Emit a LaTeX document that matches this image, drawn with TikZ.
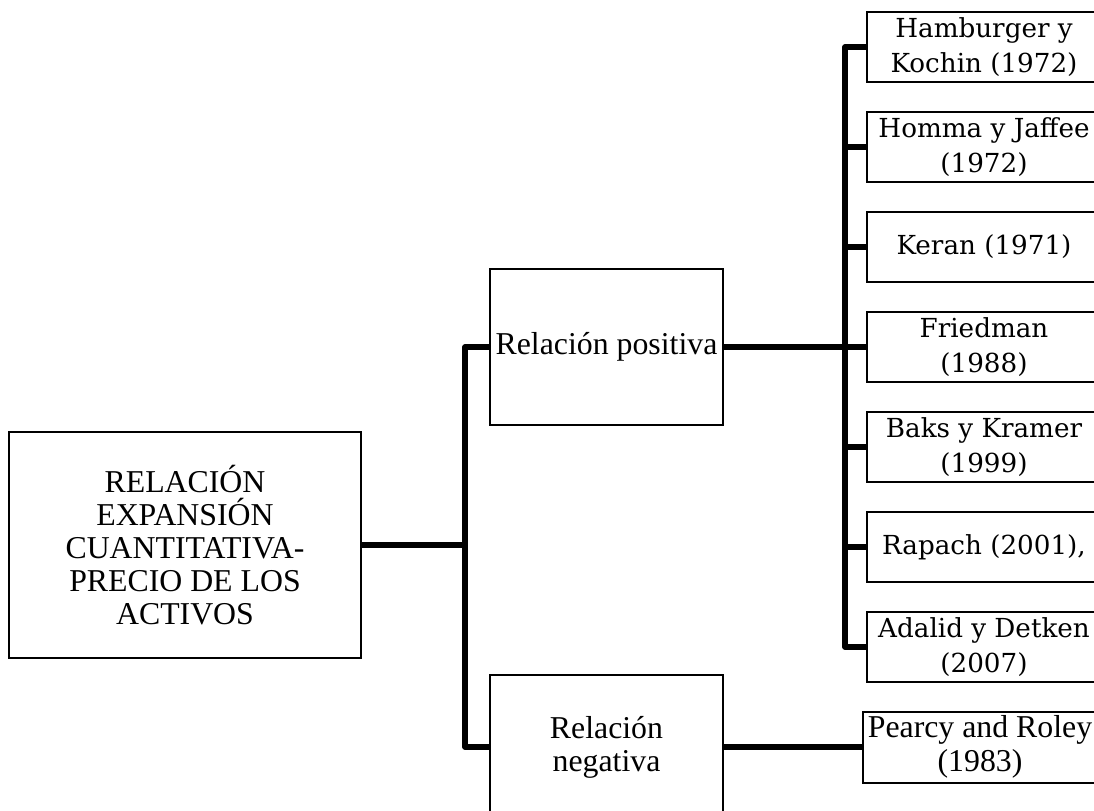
\documentclass[tikz,border=0pt]{standalone}
\usepackage{fontspec}
\setmainfont{Liberation Serif}
\newfontfamily\refserif{DejaVu Serif}
\begin{document}
\begin{tikzpicture}[x=0.5pt,y=-0.5pt,
  box/.style={draw=black,line width=1pt,fill=white,inner sep=0pt,align=center},
  times/.style={font=\fontsize{15.9pt}{16.6pt}\selectfont},
  cite/.style={box,minimum width=117pt,minimum height=35pt,
               font=\refserif\fontsize{13.1pt}{17.5pt}\selectfont},
  conn/.style={line width=2.6pt,line join=round,line cap=butt}]
\useasboundingbox (0,0) rectangle (1094,810);
\clip (0,0) rectangle (1094,810);

% root
\node[box,times,minimum width=176pt,minimum height=113pt] (root) at (185,545)
  {RELACIÓN\\EXPANSIÓN\\CUANTITATIVA-\\PRECIO DE LOS\\ACTIVOS};

% branches
\node[box,times,minimum width=116.5pt,minimum height=78pt] (pos) at (606.5,347)
  {Relación positiva};
\node[box,times,minimum width=116.5pt,minimum height=72pt] (neg) at (606.5,747)
  {Relación\\negativa};

% positive references
\node[cite] (r1) at (984,47)  {Hamburger y\\Kochin (1972)};
\node[cite] (r2) at (984,147) {Homma y Jaffee\\(1972)};
\node[cite] (r3) at (984,247) {Keran (1971)};
\node[cite] (r4) at (984,347) {Friedman\\(1988)};
\node[cite] (r5) at (984,447) {Baks y Kramer\\(1999)};
\node[cite] (r6) at (984,547) {Rapach (2001),};
\node[cite] (r7) at (984,647) {Adalid y Detken\\(2007)};

% negative reference
\node[box,times,minimum width=117pt,minimum height=35.5pt,
      font=\fontsize{15.9pt}{17pt}\selectfont] (n1) at (980,747)
  {Pearcy and Roley\\(1983)};

% trunks
\coordinate (t1) at (465,545);
\coordinate (t2) at (845,347);

\draw[conn] (root.east) -- (root.east -| t1);
\draw[conn] (pos.west) -- (pos.west -| t1) -- (neg.west -| t1) -- (neg.west);

\draw[conn] (pos.east) -- (r4.west);
\draw[conn] (r1.west) -- (r1.west -| t2) -- (r7.west -| t2) -- (r7.west);
\foreach \r in {r2,r3,r5,r6}
  \draw[conn] (\r.west -| t2) -- (\r.west);

\draw[conn] (neg.east) -- (n1.west);
\end{tikzpicture}
\end{document}
